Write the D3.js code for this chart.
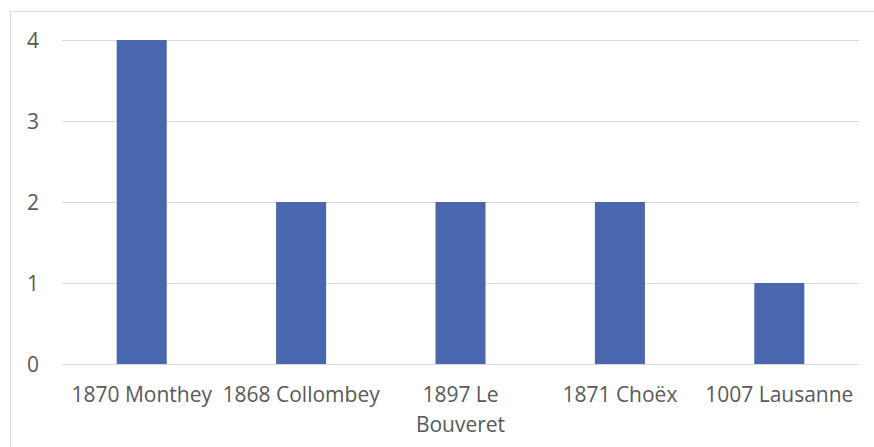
<!DOCTYPE html>
<html><head><meta charset="utf-8">
<script src="https://cdn.jsdelivr.net/npm/d3@7"></script>
<style>
html,body{margin:0;padding:0;background:#fff;}
svg{display:block;}
text{font-family:"Open Sans",sans-serif;fill:#595959;}
</style></head>
<body>
<svg id="chart" width="874" height="447"></svg>
<script>
const categories = ["1870 Monthey","1868 Collombey","1897 Le Bouveret","1871 Choëx","1007 Lausanne"];
const values = [4,2,2,2,1];
const yTicks = [0,1,2,3,4];

const svg = d3.select("#chart");
const m = {left:62, top:40};
const plotW = 859 - m.left, plotH = 364 - m.top;

svg.append("rect").attr("x",10.5).attr("y",11.5).attr("width",880).attr("height",460)
  .attr("fill","#fff").attr("stroke","#D9D9D9").attr("stroke-width",1);

const x = d3.scaleBand().domain(categories).range([m.left, m.left+plotW]).paddingInner(0.686).paddingOuter(0.343);
const y = d3.scaleLinear().domain([0,4]).range([m.top+plotH, m.top]);

svg.append("g").selectAll("line").data(yTicks).join("line")
  .attr("x1",m.left).attr("x2",m.left+plotW)
  .attr("y1",d=>Math.round(y(d))+0.5).attr("y2",d=>Math.round(y(d))+0.5)
  .attr("stroke","#D9D9D9").attr("stroke-width",1);

svg.append("g").selectAll("rect").data(values).join("rect")
  .attr("x",(d,i)=>x(categories[i]))
  .attr("width",x.bandwidth())
  .attr("y",d=>y(d))
  .attr("height",d=>y(0)-y(d))
  .attr("fill","#4A66AC");

const yAxis = d3.axisLeft(y).tickValues(yTicks).tickSize(0).tickPadding(0).tickFormat(d3.format("d"));
const ya = svg.append("g").attr("transform",`translate(33,0)`).call(yAxis);
ya.select(".domain").remove();
ya.selectAll("text").attr("text-anchor","middle").attr("font-size","21px").attr("font-family","Open Sans").attr("fill","#595959").attr("dy","0.36em");

const xAxis = d3.axisBottom(x).tickSize(0).tickPadding(0);
const xa = svg.append("g").attr("transform",`translate(0,${m.top+plotH})`).call(xAxis);
xa.select(".domain").remove();
const step = x.step();
xa.selectAll(".tick text").each(function(d){
  const t = d3.select(this);
  t.text(null).attr("font-size","21px").attr("font-family","Open Sans").attr("fill","#595959").attr("y",0).attr("dy",null);
  const words = d.split(" ");
  let lines = [], cur = [];
  const tmp = t.append("tspan");
  words.forEach(w=>{
    const test = cur.concat([w]).join(" ");
    tmp.text(test);
    if (tmp.node().getComputedTextLength() > step + 2 && cur.length) { lines.push(cur.join(" ")); cur=[w]; }
    else cur.push(w);
  });
  lines.push(cur.join(" "));
  tmp.remove();
  lines.forEach((l,i)=>{
    t.append("tspan").attr("x",0).attr("y",38 + i*30).text(l);
  });
});
</script>
</body></html>
